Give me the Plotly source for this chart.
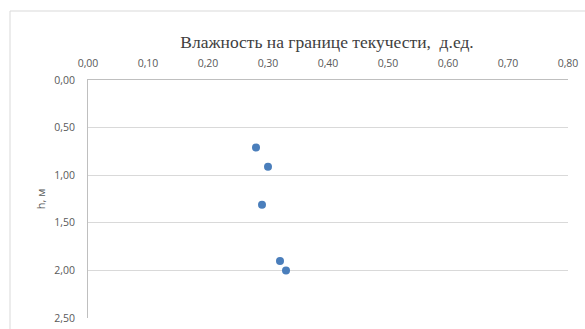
import plotly.graph_objects as go

# Liquid limit moisture vs depth
moisture = [0.28, 0.30, 0.29, 0.32, 0.33]
depth_m = [0.71, 0.91, 1.31, 1.90, 2.00]

x_ticks = [0.0, 0.1, 0.2, 0.3, 0.4, 0.5, 0.6, 0.7, 0.8]
y_ticks = [0.0, 0.5, 1.0, 1.5, 2.0, 2.5]

W, H = 585, 329
L, R, T, B = 88, 17, 80, 11

fig = go.Figure(
    go.Scatter(
        x=moisture,
        y=depth_m,
        mode="markers",
        marker=dict(size=8, color="#4a7ebb"),
        showlegend=False,
    )
)

label_font = dict(family="Open Sans", size=10.5, color="#595959")

fig.update_layout(
    width=W,
    height=H,
    margin=dict(l=L, r=R, t=T, b=B, autoexpand=False),
    paper_bgcolor="white",
    plot_bgcolor="white",
    separators=", ",
    title=dict(
        text="Влажность на границе текучести,  д.ед.",
        font=dict(family="Liberation Serif", size=17.5, color="#404040"),
        x=327 / W,
        xanchor="center",
        y=1 - 42 / H,
        yanchor="middle",
    ),
    xaxis=dict(
        side="top",
        range=[0, 0.8],
        tickvals=x_ticks,
        tickformat=".2f",
        showgrid=False,
        zeroline=False,
        showline=True,
        linecolor="#bfbfbf",
        linewidth=1,
        ticks="",
        tickfont=label_font,
        ticklabelstandoff=8,
        automargin=False,
    ),
    yaxis=dict(
        range=[2.5, 0],
        tickvals=y_ticks,
        tickformat=".2f",
        showgrid=True,
        gridcolor="#d9d9d9",
        gridwidth=1,
        zeroline=False,
        showline=True,
        linecolor="#bfbfbf",
        linewidth=1,
        ticks="",
        tickfont=label_font,
        ticklabelstandoff=10,
        automargin=False,
        title=dict(text="h, м", font=dict(family="Open Sans", size=11, color="#595959"), standoff=6),
    ),
)

# outer chart frame (left at x=10px, top at y=11px, running off the right and bottom edges)
pw = W - L - R
ph = H - T - B
fig.add_shape(
    type="rect",
    xref="paper",
    yref="paper",
    x0=(10 - L) / pw,
    x1=(W + 10 - L) / pw,
    y0=-20 / ph,
    y1=(H - B - 11) / ph,
    line=dict(color="#d9d9d9", width=1),
    fillcolor="rgba(0,0,0,0)",
    layer="below",
)

fig.write_html("out.html")
